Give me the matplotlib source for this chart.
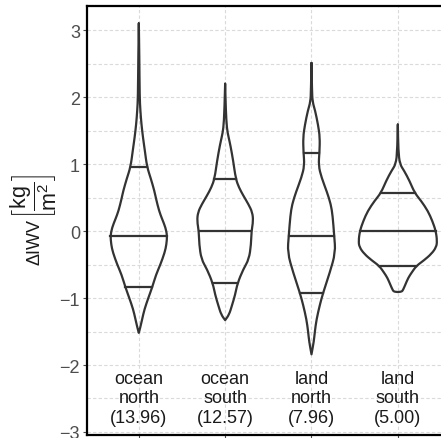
import numpy as np
import matplotlib as mpl
mpl.use("Agg")
mpl.rcParams.update({
    "font.family": ["Liberation Sans", "DejaVu Sans"],
    "mathtext.fontset": "custom",
    "mathtext.rm": "Liberation Sans",
    "mathtext.it": "Liberation Sans:italic",
    "mathtext.bf": "Liberation Sans:bold",
})
import matplotlib.pyplot as plt
from matplotlib.path import Path
from matplotlib.patches import PathPatch
from matplotlib.ticker import MultipleLocator

# region labels with mean IWV in brackets
regions = ["ocean\nnorth\n(13.96)", "ocean\nsouth\n(12.57)",
           "land\nnorth\n(7.96)", "land\nsouth\n(5.00)"]

# density outlines: dIWV level (top to bottom) and violin half-width
on_y = [3.10, 2.60, 2.00, 1.80, 1.60, 1.40, 1.20, 0.96, 0.78, 0.60, 0.48, 0.30,
        0.18, 0.05, -0.07, -0.20, -0.32, -0.50, -0.65, -0.84, -1.00, -1.17,
        -1.31, -1.45, -1.52]
on_w = [0.0, 0.006, 0.010, 0.018, 0.030, 0.048, 0.070, 0.095, 0.140, 0.180,
        0.200, 0.235, 0.270, 0.310, 0.328, 0.320, 0.300, 0.250, 0.200, 0.155,
        0.110, 0.065, 0.040, 0.015, 0.0]

os_y = [2.20, 1.80, 1.53, 1.40, 1.28, 1.05, 0.78, 0.65, 0.53, 0.40, 0.28, 0.15,
        0.0, -0.20, -0.42, -0.57, -0.78, -0.95, -1.12, -1.25, -1.33]
os_w = [0.0, 0.008, 0.020, 0.040, 0.061, 0.093, 0.123, 0.160, 0.210, 0.270,
        0.315, 0.325, 0.305, 0.300, 0.276, 0.210, 0.143, 0.116, 0.077, 0.045, 0.0]

ln_y = [2.51, 2.10, 1.93, 1.80, 1.58, 1.40, 1.18, 0.98, 0.80, 0.58, 0.40, 0.23,
        -0.07, -0.32, -0.62, -0.92, -1.10, -1.32, -1.50, -1.65, -1.84]
ln_w = [0.0, 0.006, 0.012, 0.042, 0.077, 0.097, 0.093, 0.081, 0.116, 0.180,
        0.224, 0.245, 0.263, 0.278, 0.212, 0.135, 0.097, 0.058, 0.039, 0.027, 0.0]

ls_y = [1.59, 1.20, 1.00, 0.90, 0.75, 0.57, 0.45, 0.30, 0.15, 0.0, -0.15, -0.24,
        -0.34, -0.44, -0.52, -0.62, -0.70, -0.80, -0.88, -0.905, -0.91]
ls_w = [0.0, 0.006, 0.023, 0.073, 0.135, 0.195, 0.270, 0.348, 0.400, 0.440,
        0.455, 0.445, 0.390, 0.300, 0.215, 0.160, 0.120, 0.087, 0.060, 0.045, 0.0]

profiles = [(on_y, on_w), (os_y, os_w), (ln_y, ln_w), (ls_y, ls_w)]

# quartiles
q1 = [-0.84, -0.78, -0.92, -0.52]
med = [-0.07, 0.0, -0.07, 0.0]
q3 = [0.96, 0.77, 1.17, 0.57]

LINE = "#333333"


def smooth_outline(pts):
    # quadratic B-spline through midpoints: rounds off the polyline corners
    verts = [pts[0]]
    codes = [Path.MOVETO]
    for k in range(1, len(pts) - 1):
        mid = (pts[k] + pts[k + 1]) / 2
        verts += [pts[k], mid]
        codes += [Path.CURVE3, Path.CURVE3]
    verts.append(pts[-1])
    codes.append(Path.LINETO)
    return Path(np.array(verts), codes)


fig = plt.figure(figsize=(4.41, 4.39), dpi=100)
ax = fig.add_axes([87 / 441, 3 / 439, 354 / 441, 429 / 439])

for i, (yy, ww) in enumerate(profiles):
    yy = np.asarray(yy)
    ww = np.asarray(ww)
    xs = np.concatenate([i - ww, (i + ww)[::-1]])
    ys = np.concatenate([yy, yy[::-1]])
    pts = np.column_stack([xs, ys])
    ax.add_patch(PathPatch(smooth_outline(pts), facecolor="none",
                           edgecolor=LINE, lw=1.6, joinstyle="round",
                           capstyle="round", zorder=3))
    for q in (q1[i], med[i], q3[i]):
        hw = np.interp(q, yy[::-1], ww[::-1])
        ax.plot([i - hw, i + hw], [q, q], color=LINE, lw=1.6, zorder=3)
    ax.text(i, -2.49, regions[i], ha="center", va="center", fontsize=13,
            linespacing=1.17, color="#1a1a1a")

ax.set_xlim(-0.6, 3.5)
ax.set_ylim(-3.045, 3.36)
ax.set_xticks(range(4))
ax.set_xticklabels([])
ax.set_yticks(range(-3, 4))
ax.set_yticklabels(["\u22123", "\u22122", "\u22121", "0", "1", "2", "3"])
ax.yaxis.set_minor_locator(MultipleLocator(0.5))
ax.tick_params(which="major", direction="out", length=3, width=0.8,
               color="#4d4d4d", labelcolor="#4d4d4d", labelsize=13, pad=2)
ax.tick_params(which="minor", length=0)
ax.grid(which="both", color="#dadada", lw=0.8, ls=(0, (3, 2)), zorder=0)
ax.set_axisbelow(True)

ax.spines["right"].set_visible(False)
for s in ("left", "top", "bottom"):
    ax.spines[s].set_linewidth(1.6)
    ax.spines[s].set_color("black")

# y label: quantity name plus a full-size unit fraction in brackets
fig.text(35 / 441, 1 - 242 / 439, "\u0394IWV", rotation=90, ha="center",
         va="center", fontsize=13, color="#1a1a1a")
fig.text(34 / 441, 1 - 196 / 439,
         "$\\left[\\dfrac{\\mathrm{kg}}{\\mathrm{m}^2}\\right]$",
         rotation=90, ha="center", va="center", fontsize=15.5, color="#1a1a1a")

fig.savefig("out.png", dpi=100)
